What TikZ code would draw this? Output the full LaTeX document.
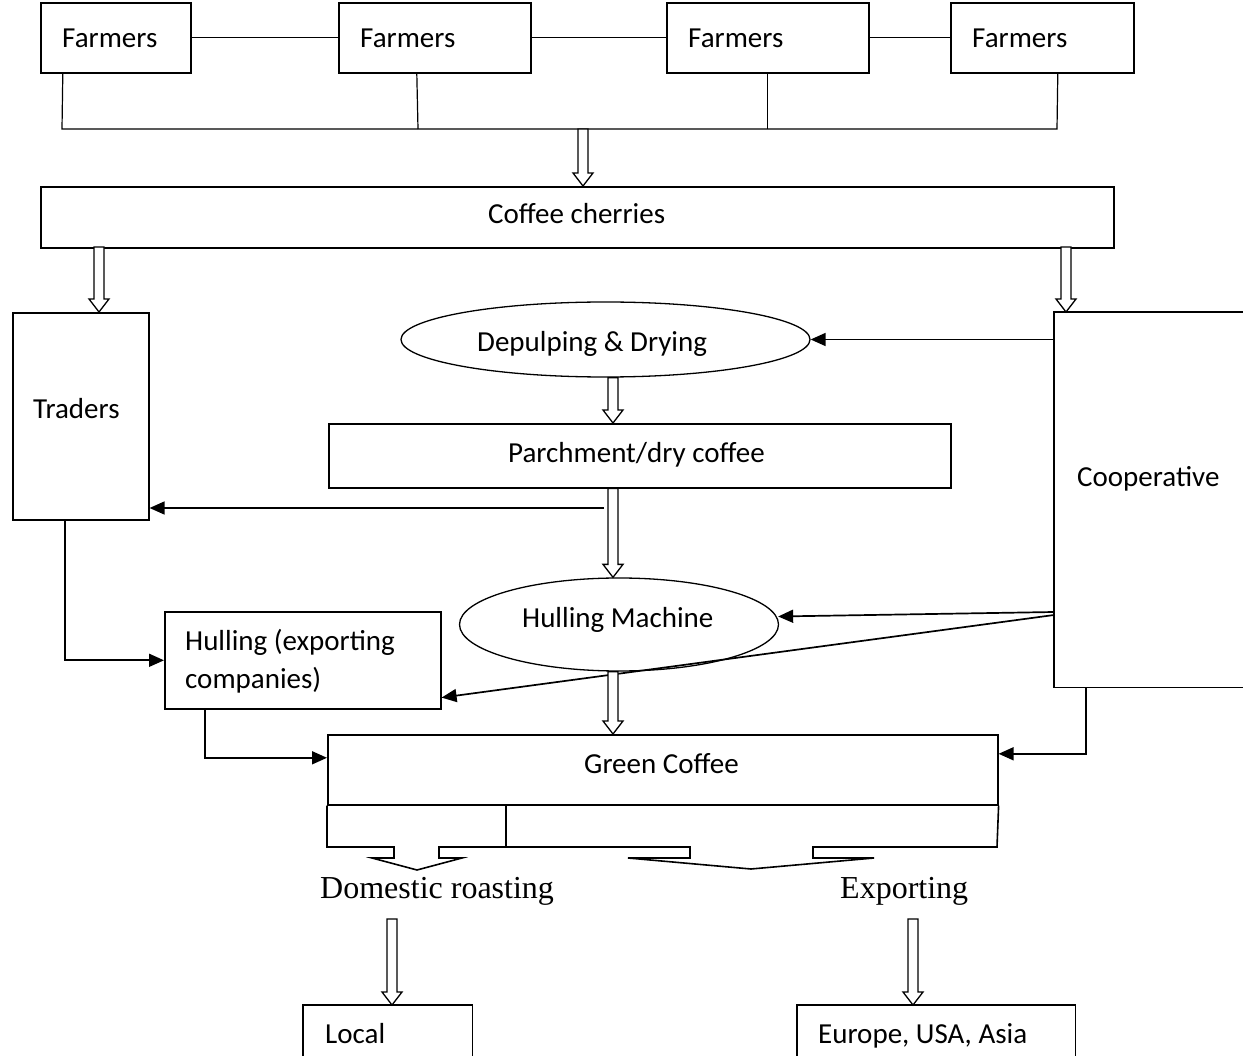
\documentclass[tikz,border=0pt]{standalone}
\usepackage{fontspec}
\setmainfont{Carlito}
\newfontfamily\timesfont{Liberation Serif}
\usetikzlibrary{arrows.meta,shapes.geometric,calc}
\newcommand\harrow[2]{\draw[hollow] let \p1=(#1), \p2=(#2) in
 ({\x1-5pt},\y1) -- ({\x1-5pt},{\y2+13pt}) -- ({\x1-10pt},{\y2+13pt}) -- (\x1,\y2)
 -- ({\x1+10pt},{\y2+13pt}) -- ({\x1+5pt},{\y2+13pt}) -- ({\x1+5pt},\y1) -- cycle;}
\begin{document}
\begin{tikzpicture}[x=1pt,y=-1pt,
  box/.style={draw, line width=1.6pt, inner sep=0pt, anchor=north west},
  openbox/.style={inner sep=0pt, anchor=north west},
  oval/.style={draw, ellipse, line width=1.3pt, inner sep=0pt},
  txt/.style={anchor=base west, inner sep=0pt, font=\fontsize{29}{35}\selectfont},
  serif/.style={anchor=base west, inner sep=0pt, font=\timesfont\fontsize{32}{38}\selectfont},
  thinline/.style={line width=1.2pt},
  boxline/.style={line width=1.6pt},
  arr/.style={line width=1.7pt, -{Triangle[length=15pt,width=13pt]}},
  hollow/.style={line width=1.3pt, fill=white, line join=miter}]
\useasboundingbox (0,0) rectangle (1243,1056);
\fill[white] (0,0) rectangle (1243,1056);

% farmers
\node[box, minimum width=150pt, minimum height=70pt] (f1) at (40,2) {};
\node[box, minimum width=192pt, minimum height=70pt] (f2) at (338,2) {};
\node[box, minimum width=202pt, minimum height=70pt] (f3) at (666,2) {};
\node[box, minimum width=183pt, minimum height=70pt] (f4) at (950,2) {};
\node[txt] (tf1) at (62,48) {Farmers};
\node[txt] (tf2) at (360,48) {Farmers};
\node[txt] (tf3) at (688,48) {Farmers};
\node[txt] (tf4) at (972,48) {Farmers};
\draw[thinline] (f1.east) -- (f2.west);
\draw[thinline] (f2.east) -- (f3.west);
\draw[thinline] (f3.east) -- (f4.west);
\coordinate (tl) at (62,129);
\coordinate (tr) at (1057,129);
\coordinate (t2) at (418,129);
\draw[thinline] ([xshift=-53pt]f1.south) -- (tl) -- (tr) -- ([xshift=15.5pt]f4.south);
\draw[thinline] ([xshift=-18pt]f2.south) -- (t2);
\draw[thinline] (f3.south) -- (f3.south |- tl);

% coffee cherries
\node[box, minimum width=1073pt, minimum height=61pt] (cherries) at (40,186) {};
\node[txt] (tch) at (488,224) {Coffee cherries};
\coordinate (trunkA) at (583,129);
\harrow{trunkA}{trunkA |- cherries.north}

% traders and cooperative
\node[box, minimum width=136pt, minimum height=207pt] (traders) at (12,312) {};
\node[txt] (ttr) at (33,419) {Traders};
\node[openbox, minimum width=189pt, minimum height=375pt] (coop) at (1054,312) {};
\draw[boxline] (coop.north east) -- (coop.north west) -- (coop.south west) -- (coop.south east);
\node[txt] (tco) at (1077,487) {Cooperative};
\coordinate (c1) at (99,247);
\coordinate (c2) at (1066,247);
\harrow{c1}{c1 |- traders.north}
\harrow{c2}{c2 |- coop.north}

% depulping
\node[oval, minimum width=409pt, minimum height=75pt] (depulp) at (605.5,339.5) {};
\node[txt] (tdp) at (477,352) {Depulping \& Drying};
\draw[arr] (depulp.east -| coop.west) -- (depulp.east);

% parchment
\node[box, minimum width=622pt, minimum height=64pt] (parch) at (328,423) {};
\node[txt] (tpa) at (508,463) {Parchment/dry coffee};
\coordinate (c3) at ([xshift=7.5pt]depulp.south);
\harrow{c3}{c3 |- parch.north}
\coordinate (p1) at (604,508);
\draw[arr] (p1) -- (p1 -| traders.east);

% hulling machine
\node[oval, minimum width=319pt, minimum height=93pt] (hullm) at (619,624.5) {};
\node[txt] (thm) at (522,627) {Hulling Machine};
\coordinate (c4) at (parch.south -| c3);
\harrow{c4}{c4 |- hullm.north}

% hulling box
\node[box, minimum width=276pt, minimum height=97pt] (hullbox) at (164,611) {};
\node[txt] (thb1) at (185,650) {Hulling (exporting};
\node[txt] (thb2) at (185,688) {companies)};

\draw[arr] ([yshift=-300pt]coop.north west) -- ([yshift=8pt,xshift=-1pt]hullm.east);
\draw[arr] ([yshift=-303pt]coop.north west) -- ([yshift=12pt]hullbox.south east);
\draw[arr] ([xshift=-16pt]traders.south) |- (hullbox.west);

% green coffee
\node[box, minimum width=670pt, minimum height=70pt] (green) at (327,734) {};
\node[txt] (tgr) at (584,773) {Green Coffee};
\coordinate (c5) at (hullm.south -| c3);
\harrow{c5}{c5 |- green.north}
\draw[arr] ([xshift=-98pt]hullbox.south) |- ([yshift=12pt]green.west);
\draw[arr] ([xshift=32pt]coop.south west) |- ([yshift=16pt]green.east);

\coordinate (gl) at (327,847);
\coordinate (gr) at (997,847);
\draw[boxline, line join=miter] (green.south west) -- (gl) -- (394,847) -- (394,858) -- (372,858) -- (417,870)
  -- (462,858) -- (439,858) -- (439,847) -- (690,847) -- (690,858) -- (628,858) -- (751,869)
  -- (874,858) -- (813,858) -- (813,847) -- (gr) -- (green.south east);
\draw[boxline] (506,804) -- (506,847);

% outlets
\node[serif] (dom) at (320,898) {Domestic roasting};
\node[serif] (expo) at (840,898) {Exporting};
\node[openbox, minimum width=169pt, minimum height=60pt] (local) at (303,1005) {};
\draw[boxline] (local.south west) -- (local.north west) -- (local.north east) -- (local.south east);
\node[txt] (tlo) at (325,1043) {Local};
\node[openbox, minimum width=278pt, minimum height=60pt] (europe) at (797,1005) {};
\draw[boxline] (europe.south west) -- (europe.north west) -- (europe.north east) -- (europe.south east);
\node[txt] (teu) at (818,1043) {Europe, USA, Asia};
\coordinate (c6) at (392,919);
\coordinate (c7) at (913,919);
\harrow{c6}{c6 |- local.north}
\harrow{c7}{c7 |- europe.north}
\end{tikzpicture}
\end{document}
